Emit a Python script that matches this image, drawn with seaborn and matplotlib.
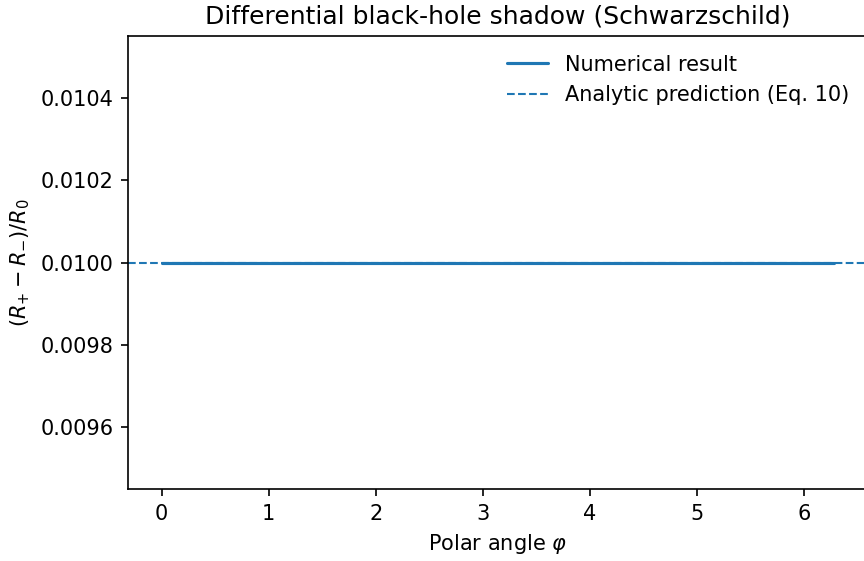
import numpy as np
import pandas as pd
import matplotlib
matplotlib.use("Agg")
import matplotlib.pyplot as plt
import seaborn as sns

sns.set_style("ticks")
plt.rcParams['font.family'] = ['DejaVu Sans']
plt.rcParams['mathtext.fontset'] = 'dejavusans'
plt.rcParams['text.color'] = 'black'
plt.rcParams['axes.labelcolor'] = 'black'
plt.rcParams['xtick.color'] = 'black'
plt.rcParams['ytick.color'] = 'black'

# Data
phi = [0.0, 0.5236, 1.0472, 1.5708, 2.0944, 2.618, 3.1416, 3.6652, 4.1888, 4.7124, 5.236, 5.7596, 6.2832]
diff_shadow = [0.0100, 0.0100, 0.0100, 0.0100, 0.0100, 0.0100, 0.0100, 0.0100, 0.0100, 0.0100, 0.0100, 0.0100, 0.0100]
analytic_value = 0.0100

df = pd.DataFrame({"phi": phi, "diff": diff_shadow})

fig = plt.figure(figsize=(5.76, 3.74), dpi=150)
ax = fig.add_axes([0.1481, 0.1283, 0.8565, 0.8075])

sns.lineplot(data=df, x="phi", y="diff", ax=ax, color="#1f77b4", lw=1.5,
             label="Numerical result")
ax.axhline(analytic_value, color="#1f77b4", lw=1.0, ls="--",
           label="Analytic prediction (Eq. 10)")

ax.set_title("Differential black-hole shadow (Schwarzschild)", fontsize=12, color="black")
ax.set_xlabel(r"Polar angle $\varphi$", fontsize=10)
ax.set_ylabel(r"$(R_{+} - R_{-})/R_0$", fontsize=10)
ax.tick_params(labelsize=10, colors="black")
for s in ax.spines.values():
    s.set_color("black")
    s.set_linewidth(0.8)
leg = ax.legend(loc="upper right", frameon=False, fontsize=10)
for t in leg.get_texts():
    t.set_color("black")

fig.savefig("out.png", dpi=150)
